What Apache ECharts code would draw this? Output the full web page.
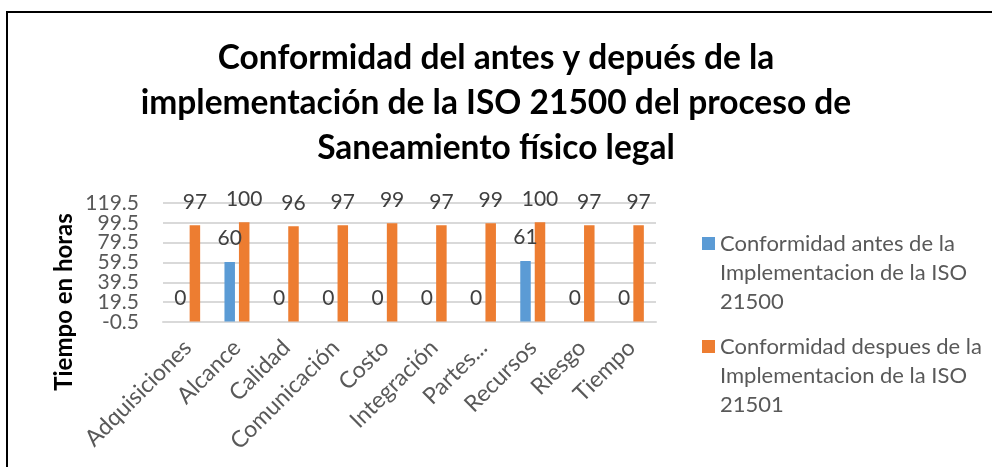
<!DOCTYPE html>
<html>
<head>
<meta charset="utf-8">
<script src="https://cdn.jsdelivr.net/npm/echarts@6/dist/echarts.min.js"></script>
<style>
  html, body { margin: 0; padding: 0; background: #fff; }
  #chart { width: 992px; height: 467px; }
  #frame { position: absolute; left: 6px; top: 11px; width: 1100px; height: 600px;
           border-left: 2px solid #000; border-top: 2px solid #000; pointer-events: none; }
</style>
</head>
<body>
<div id="chart"></div>
<div id="frame"></div>
<script>
// ── Data ────────────────────────────────────────────────────────────────
const categories = ['Adquisiciones', 'Alcance', 'Calidad', 'Comunicación', 'Costo',
                    'Integración', 'Partes...', 'Recursos', 'Riesgo', 'Tiempo'];
const antesName = 'Conformidad antes de la\nImplementacion de la ISO\n21500';
const despuesName = 'Conformidad despues de la\nImplementacion de la ISO\n21501';
const antesValues = [0, 60, 0, 0, 0, 0, 0, 61, 0, 0];
const despuesValues = [97, 100, 96, 97, 99, 97, 99, 100, 97, 97];
const yRange = [-0.5, 119.5];
const yStep = 20;

// ── Style ───────────────────────────────────────────────────────────────
const font = 'Lato, "Open Sans", sans-serif';
const blue = '#5B9BD5';
const orange = '#ED7D31';
const gray = '#595959';
const labelGray = '#404040';

// plot box; ticks are only 20px apart, so the tick labels are split over two
// axes (every other tick each) to stop ECharts dropping the ones next to min/max
const plot = { left: 163, right: 336, top: 203, bottom: 145 };
const pxPerUnit = (467 - plot.top - plot.bottom) / (yRange[1] - yRange[0]);
const pad = yStep * pxPerUnit;

const chart = echarts.init(document.getElementById('chart'), null, { renderer: 'canvas' });

const barLabel = {
  show: true, position: 'top', distance: 13,
  fontFamily: font, fontSize: 21, color: labelGray
};

// two blank lines above keep the swatch level with the first text line
const legendText = { fontFamily: font, fontSize: 22, color: gray, lineHeight: 29 };
const legendFormat = name => '\n\n' + name;

const gridLine = { lineStyle: { color: '#D9D9D9', width: 2 } };
const tickLabel = (lo, hi) => ({
  margin: 24, fontFamily: font, fontSize: 21, color: gray,
  formatter: v => (v < lo - 1e-6 || v > hi + 1e-6) ? '' : (Math.round(v * 10) / 10).toFixed(1)
});

chart.setOption({
  animation: false,
  textStyle: { fontFamily: font },
  title: {
    text: 'Conformidad del antes y depués de la\nimplementación de la ISO 21500 del proceso de\nSaneamiento físico legal',
    left: 'center', top: 31,
    textStyle: { fontFamily: font, fontSize: 33.5, fontWeight: 'bold', color: '#000', lineHeight: 45 }
  },
  legend: [
    {
      data: [antesName], orient: 'vertical', left: 697, top: 166,
      itemWidth: 13, itemHeight: 13, icon: 'rect', textStyle: legendText, formatter: legendFormat
    },
    {
      data: [despuesName], orient: 'vertical', left: 697, top: 269,
      itemWidth: 13, itemHeight: 13, icon: 'rect', textStyle: legendText, formatter: legendFormat
    }
  ],
  graphic: [{
    type: 'text', x: 64, y: 302, rotation: Math.PI / 2,
    style: { text: 'Tiempo en horas', fontFamily: font, fontSize: 24, fontWeight: 'bold',
             fill: '#000', align: 'center', verticalAlign: 'middle' }
  }],
  grid: [
    plot,
    { left: plot.left, right: plot.right, top: plot.top - pad, bottom: plot.bottom - pad }
  ],
  xAxis: [
    {
      type: 'category', data: categories,
      axisLine: { lineStyle: { color: '#D9D9D9', width: 2 } },
      axisTick: { show: false },
      axisLabel: { interval: 0, rotate: 45, fontFamily: font, fontSize: 23, color: gray, margin: 22 }
    },
    { type: 'category', data: categories, gridIndex: 1, show: false }
  ],
  yAxis: [
    {
      // ticks -0.5, 39.5, 79.5, 119.5
      type: 'value', min: yRange[0], max: yRange[1], interval: yStep * 2,
      axisLine: { show: false }, axisTick: { show: false },
      splitLine: gridLine, axisLabel: tickLabel(yRange[0], yRange[1])
    },
    {
      // same scale, one step wider each side: ticks 19.5, 59.5, 99.5 fall inside
      type: 'value', gridIndex: 1, min: yRange[0] - yStep, max: yRange[1] + yStep, interval: yStep * 2,
      axisLine: { show: false }, axisTick: { show: false },
      splitLine: Object.assign({ showMinLine: false, showMaxLine: false }, gridLine),
      axisLabel: tickLabel(yRange[0], yRange[1])
    }
  ],
  series: [
    { name: antesName, type: 'bar', data: antesValues, barWidth: 10.5, barGap: '38%',
      itemStyle: { color: blue }, label: barLabel },
    { name: despuesName, type: 'bar', data: despuesValues, barWidth: 10.5,
      itemStyle: { color: orange }, label: barLabel }
  ]
});
</script>
</body>
</html>
